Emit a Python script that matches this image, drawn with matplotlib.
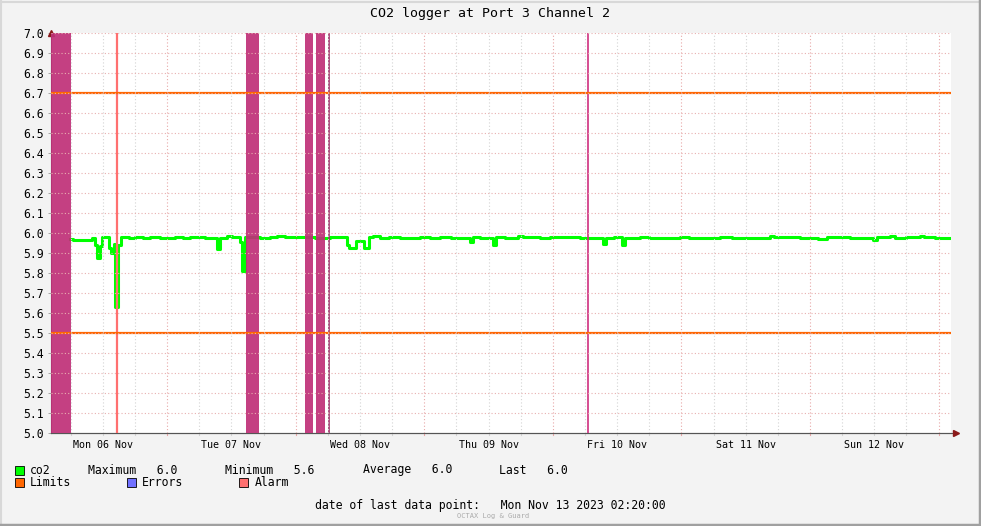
import numpy as np
import matplotlib
matplotlib.use("Agg")
import matplotlib.pyplot as plt
from matplotlib.patches import Rectangle

plt.rcParams['font.family'] = ['DejaVu Sans Mono']

# hours since Mon 06 Nov 2023 00:00
t_start = 2.333
t_end = 170.333

co2_t = [5.88, 6.44, 9.99, 10.55, 11.0, 11.48, 11.85, 13.07, 13.44, 14.0, 14.37, 14.93,
         15.4, 16.8, 18.0, 19.5, 20.8, 22.7, 25.5, 27.0, 28.3, 31.1, 33.23, 33.8, 35.2,
         36.1, 37.6, 38.0, 38.55, 41.35, 43.2, 44.6, 46.0, 48.8, 51.6, 54.4, 57.59,
         57.96, 59.27, 60.85, 61.6, 62.5, 63.75, 65.5, 67.48, 71.2, 73.0, 74.95, 77.0,
         80.55, 81.1, 82.4, 84.8, 85.4, 87.0, 89.5, 90.4, 93.6, 95.5, 97.35, 101.1,
         105.4, 105.85, 107.4, 108.9, 109.5, 112.3, 114.0, 116.0, 119.75, 121.5, 123.5,
         127.2, 129.5, 131.9, 136.6, 137.2, 142.15, 145.5, 147.2, 151.5, 155.8, 156.5,
         159.0, 159.9, 162.0, 164.6, 165.2, 167.4, 170.15]
co2_v = [5.97, 5.965, 5.975, 5.94, 5.875, 5.935, 5.98, 5.925, 5.90, 5.945, 5.63, 5.94,
         5.98, 5.975, 5.98, 5.975, 5.98, 5.975, 5.98, 5.975, 5.98, 5.975, 5.92, 5.975, 5.985,
         5.98, 5.955, 5.81, 5.98, 5.975, 5.98, 5.985, 5.98, 5.98, 5.975, 5.98, 5.94,
         5.925, 5.96, 5.925, 5.98, 5.985, 5.975, 5.98, 5.975, 5.98, 5.975, 5.98, 5.975,
         5.955, 5.98, 5.975, 5.94, 5.98, 5.975, 5.985, 5.98, 5.975, 5.98, 5.98, 5.975,
         5.945, 5.975, 5.98, 5.94, 5.975, 5.98, 5.975, 5.975, 5.98, 5.975, 5.975,
         5.98, 5.975, 5.975, 5.985, 5.98, 5.975, 5.97, 5.98, 5.975, 5.965, 5.98,
         5.985, 5.975, 5.98, 5.985, 5.98, 5.975, 5.975]

limits = [5.5, 6.7]
error_spans = [(2.333, 6.07), (38.73, 41.16), (49.75, 51.24), (51.8, 53.48)]
error_lines = [54.23, 102.57]
alarm_lines = [14.56]

day_labels = ['Mon 06 Nov', 'Tue 07 Nov', 'Wed 08 Nov', 'Thu 09 Nov',
              'Fri 10 Nov', 'Sat 11 Nov', 'Sun 12 Nov']

W, H = 981, 526
fig = plt.figure(figsize=(W / 100, H / 100), dpi=100, facecolor='#f3f3f3')
ax = fig.add_axes([51 / W, 1 - 433 / H, 900 / W, 400 / H])
ax.set_facecolor('white')

# grid
for h in np.arange(6, 170, 6):
    c = '#e8a8a8' if h % 24 == 0 else '#d4d4d4'
    ax.axvline(h, color=c, lw=0.8, ls=(0, (1, 2)), zorder=5)
    ax.plot([h, h], [0, -0.006], color=c, lw=0.8, transform=ax.get_xaxis_transform(),
            clip_on=False)
for y in np.arange(5.1, 7.01, 0.1):
    ax.axhline(y, color='#e8b0b0', lw=0.8, ls=(0, (1, 2)), zorder=5)

ax.step(co2_t, co2_v, where='post', color='#00ff00', lw=2.2, zorder=2)

for a, b in error_spans:
    ax.axvspan(a, b, color='#bf3077', alpha=0.92, lw=0, zorder=3)
ax.axvline(error_lines[0], color='#a0306a', lw=1.2, zorder=3)
ax.axvline(error_lines[1], color='#d0307f', lw=1.2, zorder=3)
for h in alarm_lines:
    ax.axvline(h, color='#ff7070', lw=1.6, zorder=3)

for y in limits:
    ax.axhline(y, color='#ff6600', lw=1.6, zorder=4)

ax.set_xlim(t_start, t_end)
ax.set_ylim(5.0, 7.0)
ax.set_yticks(np.arange(5.0, 7.01, 0.1))
ax.set_yticklabels(['%.1f' % v for v in np.arange(5.0, 7.01, 0.1)])
ax.tick_params(axis='y', length=2, width=0.6, colors='#999999', labelcolor='black',
               labelsize=8.3, pad=3)
ax.set_xticks(np.arange(12, 170, 24))
ax.set_xticklabels(day_labels)
ax.tick_params(axis='x', length=0, labelsize=7.2, pad=5)

for s in ['top', 'right']:
    ax.spines[s].set_visible(False)
for s in ['left', 'bottom']:
    ax.spines[s].set_color('#555555')
    ax.spines[s].set_linewidth(0.8)

# axis arrows
ax.plot([0], [1.0], marker='^', color='#8b1a1a', ms=4, transform=ax.transAxes, clip_on=False)
ax.plot([0, 1.006], [0, 0], color='#555555', lw=0.8, transform=ax.transAxes, clip_on=False)
ax.plot([1.006], [0], marker='>', color='#8b1a1a', ms=4, transform=ax.transAxes, clip_on=False)

fig.text(490 / W, 1 - 14 / H, 'CO2 logger at Port 3 Channel 2', ha='center', va='center',
         fontsize=9.5)

def px(x, y):
    return x / W, 1 - y / H

def legend_box(x, y, color):
    fig.patches.append(Rectangle(px(x, y + 5), 9 / W, 9 / H, transform=fig.transFigure,
                                 facecolor=color, edgecolor='black', lw=0.6))

fs = 8.3
legend_box(15, 470, '#00ff00')
fig.text(*px(30, 470), 'co2', fontsize=fs, va='center')
fig.text(*px(88, 470), 'Maximum   6.0', fontsize=fs, va='center')
fig.text(*px(225, 470), 'Minimum   5.6', fontsize=fs, va='center')
fig.text(*px(363, 470), 'Average   6.0', fontsize=fs, va='center')
fig.text(*px(499, 470), 'Last   6.0', fontsize=fs, va='center')
legend_box(15, 482, '#ff6600')
fig.text(*px(30, 482), 'Limits', fontsize=fs, va='center')
legend_box(127, 482, '#7070ff')
fig.text(*px(142, 482), 'Errors', fontsize=fs, va='center')
legend_box(239, 482, '#ff7070')
fig.text(*px(255, 482), 'Alarm', fontsize=fs, va='center')

fig.text(*px(315, 506), 'date of last data point:   Mon Nov 13 2023 02:20:00',
         fontsize=fs, va='center')
fig.text(*px(493, 516), 'OCTAX Log & Guard', fontsize=5, color='#aaaaaa',
         ha='center', va='center')

# frame
fig.add_artist(plt.Line2D([0, 1], [1 - 1.5 / H, 1 - 1.5 / H], color='#d8d8d8', lw=1.5))
fig.add_artist(plt.Line2D([1 / W, 1 / W], [0, 1], color='#d8d8d8', lw=1.5))
fig.add_artist(plt.Line2D([1 - 1.5 / W, 1 - 1.5 / W], [0, 1], color='#a0a0a0', lw=2.5))
fig.add_artist(plt.Line2D([0, 1], [1.5 / H, 1.5 / H], color='#a0a0a0', lw=2.5))

fig.savefig('out.png', dpi=100, facecolor=fig.get_facecolor())
